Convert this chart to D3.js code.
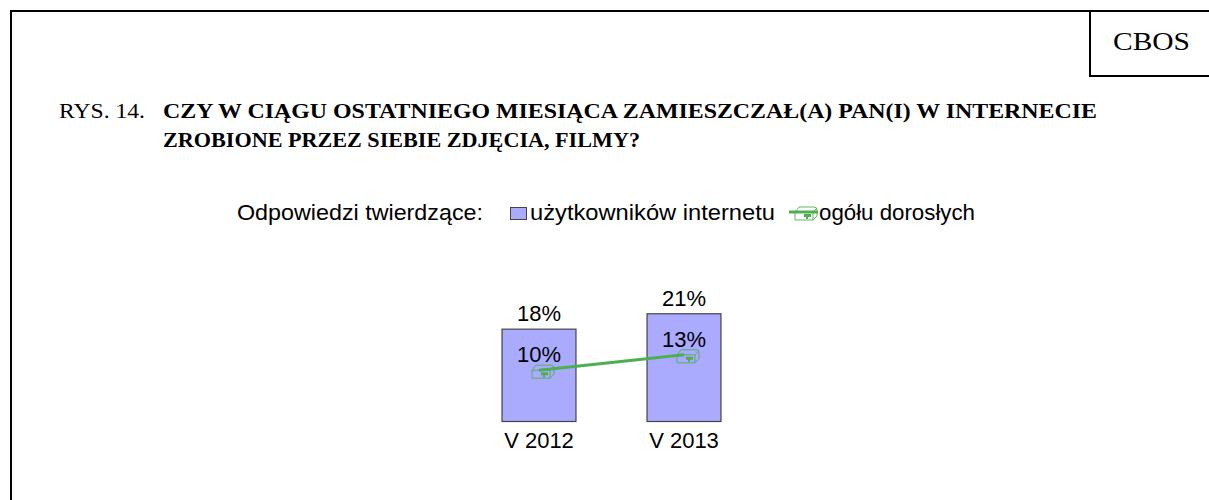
<!DOCTYPE html>
<html>
<head>
<meta charset="utf-8">
<script src="https://cdnjs.cloudflare.com/ajax/libs/d3/7.8.5/d3.min.js"></script>
<style>
  html, body { margin: 0; padding: 0; background: #fff; }
  svg { display: block; }
</style>
</head>
<body>
<script>
// data
var categories = ["V 2012", "V 2013"];
var internetUsers = [18, 21];   // użytkowników internetu (bars)
var allAdults = [10, 13];       // ogółu dorosłych (line)
var seriesNames = ["użytkowników internetu", "ogółu dorosłych"];

var width = 1209, height = 500;
var svg = d3.select("body").append("svg")
    .attr("width", width)
    .attr("height", height);

var sans = "'Liberation Sans', Arial, sans-serif";
var serif = "'Liberation Serif', 'Times New Roman', serif";
var barFill = "#aaaaff", barStroke = "#444", green = "#4caf50";

// frame + CBOS box
svg.append("path")
    .attr("d", "M11,500 L11,11 L1209,11")
    .attr("fill", "none").attr("stroke", "#000").attr("stroke-width", 2);
svg.append("path")
    .attr("d", "M1090,11 L1090,76 L1209,76")
    .attr("fill", "none").attr("stroke", "#000").attr("stroke-width", 2);
svg.append("text")
    .attr("x", 1113).attr("y", 50)
    .attr("textLength", 77).attr("lengthAdjust", "spacingAndGlyphs")
    .style("font-family", serif).style("font-size", "25px")
    .text("CBOS");

// title
svg.append("text")
    .attr("x", 59).attr("y", 118)
    .attr("textLength", 86).attr("lengthAdjust", "spacingAndGlyphs")
    .style("font-family", serif).style("font-size", "20px")
    .text("RYS. 14.");
svg.append("text")
    .attr("x", 163).attr("y", 118)
    .attr("textLength", 934).attr("lengthAdjust", "spacingAndGlyphs")
    .style("font-family", serif).style("font-size", "20px").style("font-weight", "bold")
    .text("CZY W CIĄGU OSTATNIEGO MIESIĄCA ZAMIESZCZAŁ(A) PAN(I) W INTERNECIE");
svg.append("text")
    .attr("x", 163).attr("y", 147)
    .attr("textLength", 477).attr("lengthAdjust", "spacingAndGlyphs")
    .style("font-family", serif).style("font-size", "20px").style("font-weight", "bold")
    .text("ZROBIONE PRZEZ SIEBIE ZDJĘCIA, FILMY?");

// scales
var x = d3.scaleBand()
    .domain(categories)
    .range([466.5, 756.5])
    .paddingInner(0.49)
    .paddingOuter(0.245);
var y = d3.scaleLinear()
    .domain([0, 30])
    .range([421.5, 267.6]);

// marker used for the line series
function marker(g) {
    g.append("path")
        .attr("d", "M-10,-1 L-6,-6 L9,-6 Q12,-6 12,-3 L12,3 L8,7 L-10,7 Z M-10,-1 L8,-1 L8,7 M8,-1 L12,-5")
        .attr("fill", "none").attr("stroke", green).attr("stroke-width", 0.9);
    g.append("path")
        .attr("d", "M-1,1 L6,1 L6,4 L3,4 L3,6 L1,6 L1,4 L-1,4 Z")
        .attr("fill", green);
}

// bars
var chart = svg.append("g");
chart.selectAll("rect.bar")
    .data(internetUsers)
    .enter().append("rect")
    .attr("class", "bar")
    .attr("x", function(d, i) { return x(categories[i]); })
    .attr("y", function(d) { return y(d); })
    .attr("width", x.bandwidth())
    .attr("height", function(d) { return y(0) - y(d); })
    .attr("fill", barFill)
    .attr("stroke", barStroke)
    .attr("stroke-width", 1.2);

chart.selectAll("text.barlabel")
    .data(internetUsers)
    .enter().append("text")
    .attr("class", "barlabel")
    .attr("x", function(d, i) { return x(categories[i]) + x.bandwidth() / 2; })
    .attr("y", function(d) { return y(d) - 8; })
    .attr("text-anchor", "middle")
    .style("font-family", sans).style("font-size", "22px")
    .text(function(d) { return d + "%"; });

// category labels
chart.selectAll("text.cat")
    .data(categories)
    .enter().append("text")
    .attr("class", "cat")
    .attr("x", function(d) { return x(d) + x.bandwidth() / 2; })
    .attr("y", 448)
    .attr("text-anchor", "middle")
    .style("font-family", sans).style("font-size", "22px")
    .text(function(d) { return d; });

// line
var line = d3.line()
    .x(function(d, i) { return x(categories[i]) + x.bandwidth() / 2; })
    .y(function(d) { return y(d); });
chart.append("path")
    .datum(allAdults)
    .attr("d", line)
    .attr("fill", "none")
    .attr("stroke", green)
    .attr("stroke-width", 3);

chart.selectAll("g.mark")
    .data(allAdults)
    .enter().append("g")
    .attr("class", "mark")
    .attr("transform", function(d, i) {
        return "translate(" + (x(categories[i]) + x.bandwidth() / 2 + 3) + "," + (y(d) + 1) + ")";
    })
    .each(function() { marker(d3.select(this)); });

chart.selectAll("text.linelabel")
    .data(allAdults)
    .enter().append("text")
    .attr("class", "linelabel")
    .attr("x", function(d, i) { return x(categories[i]) + x.bandwidth() / 2; })
    .attr("y", function(d) { return y(d) - 8; })
    .attr("text-anchor", "middle")
    .style("font-family", sans).style("font-size", "22px")
    .text(function(d) { return d + "%"; });

// legend
var legend = svg.append("g").style("font-family", sans).style("font-size", "22px");
legend.append("text").attr("x", 237).attr("y", 220)
    .attr("textLength", 246).attr("lengthAdjust", "spacingAndGlyphs")
    .text("Odpowiedzi twierdzące:");
legend.append("rect")
    .attr("x", 510.5).attr("y", 207.5).attr("width", 16).attr("height", 12)
    .attr("fill", barFill).attr("stroke", barStroke).attr("stroke-width", 1);
legend.append("text").attr("x", 530).attr("y", 220)
    .attr("textLength", 245).attr("lengthAdjust", "spacingAndGlyphs")
    .text(seriesNames[0]);
legend.append("line")
    .attr("x1", 789).attr("x2", 818).attr("y1", 212).attr("y2", 212)
    .attr("stroke", green).attr("stroke-width", 3);
legend.append("g").attr("transform", "translate(805,213)")
    .each(function() { marker(d3.select(this)); });
legend.append("text").attr("x", 819).attr("y", 220)
    .attr("textLength", 156).attr("lengthAdjust", "spacingAndGlyphs")
    .text(seriesNames[1]);
</script>
</body>
</html>
